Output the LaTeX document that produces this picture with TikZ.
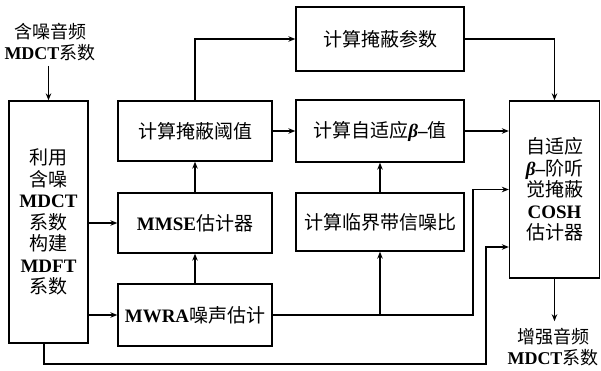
\documentclass[tikz,border=0pt]{standalone}
\usepackage{fontspec}
\setmainfont{Liberation Serif}
\newfontfamily\cjk{Noto Sans CJK SC}
\usetikzlibrary{arrows.meta}
\newcommand{\zh}[1]{{\cjk #1}}
\newcommand{\en}[1]{{\bfseries #1}}
\newcommand{\bet}{{\bfseries\itshape β}}
\begin{document}
\begin{tikzpicture}[x=1pt,y=-1pt,line width=1.3pt,
  txt/.style={font=\fontsize{19}{21.5}\selectfont, align=center},
  box/.style={txt, draw, rectangle, inner sep=0pt},
  lbl/.style={font=\fontsize{18}{21.5}\selectfont, align=center, inner sep=0pt},
  arr/.style={-{Stealth[length=7pt,width=5.5pt]}}]
\useasboundingbox (0,0) rectangle (601,371);
% boxes
\node[box, minimum width=79pt, minimum height=242pt] (L) at (48.5,222)
  {\zh{利用}\\\zh{含噪}\\\en{MDCT}\\\zh{系数}\\\zh{构建}\\\en{MDFT}\\\zh{系数}};
\node[box, minimum width=154pt, minimum height=60pt] (T) at (195,131) {\zh{计算掩蔽阈值}};
\node[box, minimum width=168pt, minimum height=64pt] (P) at (380,39) {\zh{计算掩蔽参数}};
\node[box, minimum width=168pt, minimum height=62pt] (B) at (380,131) {\zh{计算自适应}\bet{\bfseries –}\zh{值}};
\node[box, minimum width=90pt, minimum height=177pt] (R) at (554.5,189.5)
  {\zh{自适应}\\\bet{\bfseries –}\zh{阶听}\\\zh{觉掩蔽}\\\en{COSH}\\\zh{估计器}};
\node[box, minimum width=154pt, minimum height=60pt] (M) at (195,223) {\en{MMSE}\zh{估计器}};
\node[box, minimum width=154pt, minimum height=62pt] (W) at (195,315) {\en{MWRA}\zh{噪声估计}};
\node[box, minimum width=168pt, minimum height=58pt] (C) at (380,222) {\zh{计算临界带信噪比}};
% labels
\node[lbl, inner sep=4pt] (in) at (50,42) {\zh{含噪音频}\\\en{MDCT}\zh{系数}};
\node[lbl, inner sep=6pt] (out) at (553,347) {\zh{增强音频}\\\en{MDCT}\zh{系数}};
% helper coordinates
\coordinate (k1) at (473,315);
\coordinate (l1) at (44,364);
\coordinate (l2) at (486,247);
% connectors
\draw[arr] (L.north |- in.south) -- (L.north);
\draw[arr] (T.north) |- (P.west);
\draw[arr] (T.east) -- (B.west);
\draw[arr] (P.east) -| (R.north);
\draw[arr] (B.east) -- (B.east -| R.west);
\draw[arr] (M.north) -- (T.south);
\draw[arr] (W.north) -- (M.south);
\draw[arr] (L.east |- M.west) -- (M.west);
\draw[arr] (L.east |- W.west) -- (W.west);
\draw[arr] (W.east) -- (k1) |- (R.west);
\draw[arr] (W.east -| C.south) -- (C.south);
\draw[arr] (C.north) -- (B.south);
\draw[arr] (L.south -| l1) -- (l1) -| (l2) -- (l2 -| R.west);
\draw[arr] (R.south) -- (R.south |- out.north);
\end{tikzpicture}
\end{document}
